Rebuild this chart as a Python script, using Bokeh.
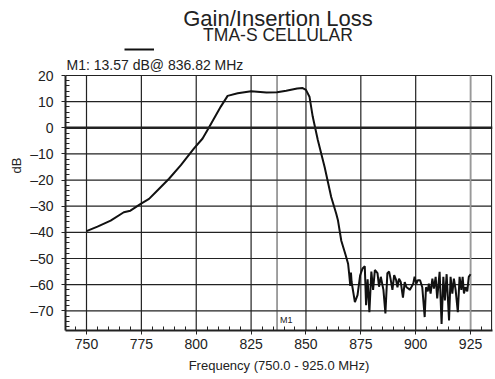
from bokeh.plotting import figure
from bokeh.models import (Range1d, FixedTicker, Span, Label, Legend, LegendItem)
from bokeh.embed import file_html
from bokeh.resources import INLINE

# ---- data ----
freq_mhz = [750, 755, 761, 767, 770, 774.7, 778.5, 782.3, 787.6, 793, 799, 802.9,
            805.6, 811.2, 814.3, 818.9, 825, 832, 836.82, 841, 846, 848.5, 850,
            851.6, 853.1, 855.4, 858.5, 861.5, 863.8, 864.6, 866.1, 868, 869.2,
            869.7, 870.2, 870.5, 870.8, 872.3, 873.5, 874.7, 875.8, 876.8, 877.4,
            878.1, 878.9, 879.8, 880.6, 881.4, 882.6, 883.3, 884.1, 885.3, 886.2,
            887.1, 887.9, 888.6, 889.4, 890.2, 891.1, 891.7, 892.4, 893.2, 894.2,
            895, 895.8, 896.7, 897.3, 898, 898.9, 899.5, 900.3, 901, 902, 903,
            904.1, 904.7, 905.5, 906, 906.8, 907.6, 908.3, 909.1, 909.8, 910.9,
            911.8, 912.6, 913.3, 914.1, 915.2, 915.9, 916.7, 917.4, 918.2, 919.2,
            920, 920.8, 921.4, 922, 922.7, 923.5, 924.2, 925]
gain_db = [-39.5, -37.8, -35.5, -32.3, -31.7, -29.1, -27.2, -24, -19.5, -14.3, -7.9, -4.1,
           -0.2, 8.1, 12.2, 13.2, 14.0, 13.5, 13.57, 14.2, 15.0, 15.2, 14.5,
           11.9, 4.2, -4.7, -15, -26.5, -32.9, -35.5, -43.2, -48.5, -52,
           -56, -60.5, -55.4, -59, -66.7, -64, -56.4, -53.8, -53, -67.9,
           -58, -70.5, -55, -62, -54.4, -55.6, -60.8, -57, -62, -71,
           -55.6, -55, -58, -62, -56.4, -58.3, -61, -57.7, -59, -65,
           -59, -61, -61.5, -62, -61, -59.6, -57, -59.6, -58.3, -58.3, -61,
           -72.4, -61, -62.6, -59.6, -63.4, -57.7, -61.5, -57, -65.3, -55.1,
           -75, -57, -66, -56, -73.7, -57, -63.4, -57.7, -62, -70.5,
           -57, -62, -57, -63.4, -61, -62.6, -57, -56]

x_ticks = [750, 775, 800, 825, 850, 875, 900, 925]
x_minor = [745, 755, 760, 765, 770, 780, 785, 790, 795, 805, 810, 815, 820, 830, 835,
           840, 845, 855, 860, 865, 870, 880, 885, 890, 895, 905, 910, 915, 920, 930]
y_ticks = [-70, -60, -50, -40, -30, -20, -10, 0, 10, 20]
y_minor = [v for v in range(-76, 20, 2) if v % 10 != 0]
y_labels = {-70: "–70", -60: "–60", -50: "–50", -40: "–40", -30: "–30",
            -20: "–20", -10: "–10", 0: "0", 10: "10", 20: "20"}

marker_freq = 836.82
marker_text = "M1: 13.57 dB@ 836.82 MHz"
title_text = "Gain/Insertion Loss"
subtitle_text = "TMA-S CELLULAR"
x_label = "Frequency (750.0 - 925.0 MHz)"
y_label = "dB"

FONT = "Liberation Sans"
INK = "#222222"

X0, X1 = 740.43, 935.0        # visible frequency window
XB = 934.6                    # right edge of the chart box
Y0, YTOP, Y1 = -77.54, 20, 48.69   # frame bottom, box top, frame top (header room)

p = figure(width=494, height=378, title=None,
           x_range=Range1d(X0, X1), y_range=Range1d(Y0, Y1),
           output_backend="svg", toolbar_location=None,
           min_border_left=65, min_border_top=0, min_border_right=2,
           min_border_bottom=48)
p.outline_line_color = None
p.background_fill_color = "white"
p.border_fill_color = "white"
p.xgrid.visible = False
p.ygrid.visible = False

p.xaxis.ticker = FixedTicker(ticks=x_ticks, minor_ticks=x_minor)
p.yaxis.ticker = FixedTicker(ticks=y_ticks, minor_ticks=y_minor)
p.yaxis.bounds = (Y0, YTOP)
p.yaxis.major_label_overrides = y_labels
for ax in (p.xaxis, p.yaxis):
    ax.axis_line_color = INK
    ax.axis_line_width = 2
    ax.major_tick_line_color = INK
    ax.minor_tick_line_color = INK
    ax.major_tick_out = 4
    ax.major_tick_in = 0
    ax.minor_tick_in = 4
    ax.minor_tick_out = 0
    ax.major_label_text_font = FONT
    ax.major_label_text_font_size = "14px"
    ax.major_label_text_color = INK
    ax.axis_label_text_font = FONT
    ax.axis_label_text_font_size = "13px"
    ax.axis_label_text_font_style = "normal"
    ax.axis_label_text_color = INK
p.xaxis.axis_label = x_label
p.yaxis.axis_label = y_label
p.yaxis.major_label_standoff = 8
p.xaxis.major_label_standoff = 4
p.xaxis.axis_label_standoff = 6
p.yaxis.axis_label_standoff = 3

# grid lines and box (bounded to the chart box, header area stays blank)
p.segment(x0=x_ticks, y0=[Y0] * len(x_ticks), x1=x_ticks, y1=[YTOP] * len(x_ticks),
          line_color=INK, line_width=1.2)
p.segment(x0=[X0] * len(y_ticks), y0=y_ticks, x1=[XB] * len(y_ticks), y1=y_ticks,
          line_color=INK, line_width=1.2)
p.segment(x0=[XB], y0=[Y0], x1=[XB], y1=[YTOP], line_color=INK, line_width=1.2)
p.segment(x0=[marker_freq], y0=[Y0], x1=[marker_freq], y1=[YTOP],
          line_color="#444444", line_width=1)
p.segment(x0=[925], y0=[Y0], x1=[925], y1=[YTOP], line_color="#999999", line_width=1.6)
p.add_layout(Span(location=0, dimension="width", line_color=INK, line_width=2.4))

curve = p.line(freq_mhz, gain_db, line_color="#111111", line_width=2)

p.add_layout(Label(x=marker_freq, y=Y0, x_offset=3, y_offset=6, text="M1",
                   text_font=FONT, text_font_size="9px", text_color=INK,
                   text_baseline="bottom"))

# header texts (screen units relative to the plot frame: left=65px, bottom=330px)
p.add_layout(Label(x=212.5, y=312, x_units="screen", y_units="screen", text=title_text,
                   text_font=FONT, text_font_size="22px", text_color=INK,
                   text_align="center", text_baseline="alphabetic"))
p.add_layout(Label(x=212.5, y=296, x_units="screen", y_units="screen", text=subtitle_text,
                   text_font=FONT, text_font_size="17.5px", text_color=INK,
                   text_align="center", text_baseline="alphabetic"))
p.add_layout(Label(x=1, y=266, x_units="screen", y_units="screen", text=marker_text,
                   text_font=FONT, text_font_size="14px", text_color=INK,
                   text_align="left", text_baseline="alphabetic"))

legend = Legend(items=[LegendItem(label=" ", renderers=[curve])], location=(59, 277),
                glyph_width=30, glyph_height=8, label_height=8, label_width=1,
                label_text_font_size="4px", padding=0, margin=0, spacing=0,
                label_standoff=0, border_line_alpha=0, background_fill_alpha=0)
p.add_layout(legend)

open("out.html", "w").write(file_html(p, INLINE))
